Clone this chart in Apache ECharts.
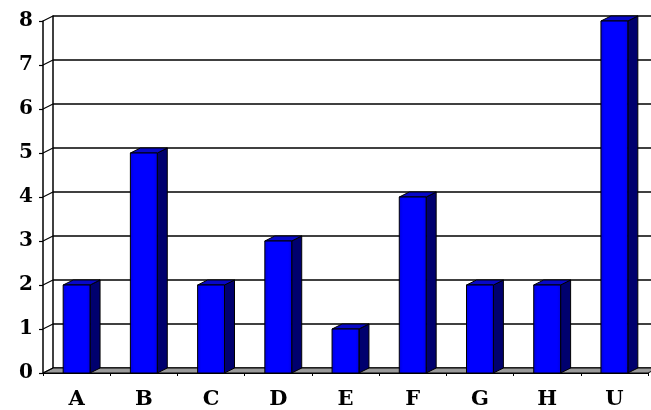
<!DOCTYPE html>
<html>
<head>
<meta charset="utf-8">
<script src="https://cdn.jsdelivr.net/npm/echarts@6/dist/echarts.min.js"></script>
<style>
  html, body { margin: 0; padding: 0; background: #ffffff; }
  #chart { width: 651px; height: 410px; }
</style>
</head>
<body>
<div id="chart"></div>
<script>
// Categories and counts
var categories = ['A', 'B', 'C', 'D', 'E', 'F', 'G', 'H', 'U'];
var counts = [2, 5, 2, 3, 1, 4, 2, 2, 8];
var yTicks = [0, 1, 2, 3, 4, 5, 6, 7, 8];

// Depth of the pseudo-3D extrusion (to the right and upward)
var DX = 10, DY = -5;
var LABEL_FONT = '"DejaVu Serif", "Liberation Serif", serif';

var chart = echarts.init(document.getElementById('chart'), null, { renderer: 'canvas' });

var barData = counts.map(function (v, i) { return [i, v]; });

function renderBar(params, api) {
  var i = api.value(0), v = api.value(1);
  var base = api.coord([i, 0]);
  var top = api.coord([i, v]);
  var band = api.size([1, 0])[0];
  var w = band * 0.4;
  var x0 = base[0] - w / 2, x1 = x0 + w;
  var yb = base[1], yt = top[1];
  return {
    type: 'group',
    children: [
      { type: 'polygon', shape: { points: [[x1, yt], [x1 + DX, yt + DY], [x1 + DX, yb + DY], [x1, yb]] },
        style: { fill: '#00006e', stroke: '#000000', lineWidth: 1 } },
      { type: 'polygon', shape: { points: [[x0, yt], [x0 + DX, yt + DY], [x1 + DX, yt + DY], [x1, yt]] },
        style: { fill: '#0808c8', stroke: '#000000', lineWidth: 1 } },
      { type: 'rect', shape: { x: x0, y: yt, width: w, height: yb - yt },
        style: {
          fill: new echarts.graphic.LinearGradient(0, 0, 1, 0, [
            { offset: 0, color: '#0000d8' }, { offset: 0.15, color: '#0000ff' },
            { offset: 0.85, color: '#0000ff' }, { offset: 1, color: '#0000e0' }
          ]),
          stroke: '#000000', lineWidth: 1 } }
    ]
  };
}

// Floor slab under the bars
function renderFloor(params, api) {
  var cs = params.coordSys;
  var y = cs.y + cs.height, xl = cs.x, xr = cs.x + cs.width;
  return {
    type: 'polygon',
    shape: { points: [[xl, y], [xl + DX, y + DY], [xr + DX, y + DY], [xr, y]] },
    style: { fill: '#9a9a9a', stroke: '#000000', lineWidth: 1 },
    z2: 0
  };
}

// Slanted side-wall edges joining the front axis to the back gridlines
function renderWallTick(params, api) {
  var cs = params.coordSys;
  var p = api.coord([0, api.value(0)]);
  var x = cs.x;
  return {
    type: 'line',
    shape: { x1: x, y1: p[1], x2: x + DX, y2: p[1] + DY },
    style: { stroke: '#000000', lineWidth: 1.2 }
  };
}

var option = {
  backgroundColor: '#ffffff',
  animation: false,
  grid: [
    { left: 43 + DX, right: 0, top: 21 + DY, bottom: 37 - DY },
    { left: 43, right: 3, top: 21, bottom: 37 }
  ],
  xAxis: [
    { type: 'category', gridIndex: 0, data: categories, show: false },
    { type: 'category', gridIndex: 1, data: categories,
      axisLine: { show: true, lineStyle: { color: '#000000', width: 1.2 } },
      axisTick: { show: true, length: 3, lineStyle: { color: '#000000' } },
      axisLabel: { color: '#000000', fontFamily: LABEL_FONT, fontWeight: 'bold', fontSize: 21, margin: 16 } }
  ],
  yAxis: [
    { type: 'value', gridIndex: 0, min: 0, max: 8, interval: 1,
      axisLine: { show: true, lineStyle: { color: '#000000', width: 1.5 } },
      axisTick: { show: false }, axisLabel: { show: false },
      splitLine: { show: true, lineStyle: { color: '#000000', width: 1.6 } } },
    { type: 'value', gridIndex: 1, min: 0, max: 8, interval: 1,
      axisLine: { show: true, lineStyle: { color: '#000000', width: 1.5 } },
      axisTick: { show: true, inside: false, length: 4, lineStyle: { color: '#000000', width: 1.2 } },
      splitLine: { show: false },
      axisLabel: { color: '#000000', fontFamily: LABEL_FONT, fontWeight: 'bold', fontSize: 20, margin: 10 } }
  ],
  series: [
    { type: 'custom', xAxisIndex: 1, yAxisIndex: 1, data: [[0]], renderItem: renderFloor, z: 1, silent: true },
    { type: 'custom', xAxisIndex: 1, yAxisIndex: 1, data: yTicks.map(function (t) { return [t]; }),
      renderItem: renderWallTick, z: 1, silent: true },
    { type: 'custom', xAxisIndex: 1, yAxisIndex: 1, data: barData, renderItem: renderBar, z: 3, silent: true }
  ]
};

chart.setOption(option);
</script>
</body>
</html>
